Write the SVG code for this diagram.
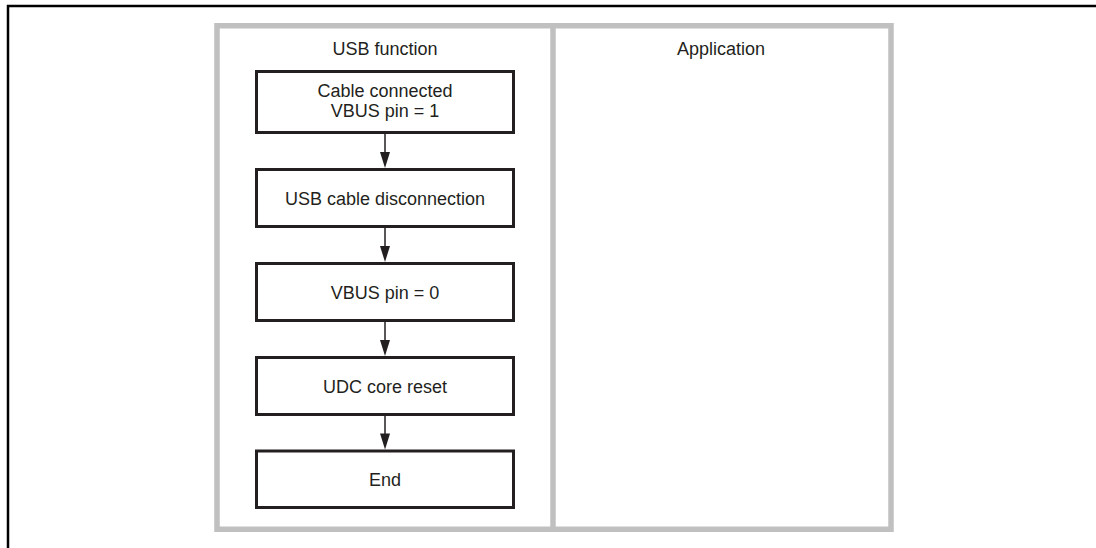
<svg xmlns="http://www.w3.org/2000/svg" width="1096" height="548" viewBox="0 0 1096 548">
<style>
.frame{fill:none;stroke:#000;stroke-width:2.5}
.lane{fill:none;stroke:#c0c0c0;stroke-width:5.5}
.box{fill:#fff;stroke:#231f20;stroke-width:3}
.txt{font-family:"Liberation Sans",Arial,sans-serif;font-size:18px;fill:#231f20;text-anchor:middle}
.conn{stroke:#231f20;stroke-width:1.5;fill:none}
.head{fill:#231f20}
</style>
<rect width="1096" height="548" fill="#fff"/>
<path class="frame" d="M8,548 V6 H1096"/>
<g id="lanes">
<rect class="lane" x="217" y="25.75" width="674" height="503.5"/>
<line class="lane" x1="553" y1="26" x2="553" y2="529"/>
<text class="txt" x="385" y="55">USB function</text>
<text class="txt" x="721" y="55">Application</text>
</g>
<g id="node1">
<rect class="box" x="256.5" y="71.5" width="257" height="61"/>
<text class="txt" x="385" y="96.5">Cable connected</text>
<text class="txt" x="385" y="117">VBUS pin = 1</text>
</g>
<g id="node2">
<rect class="box" x="256.5" y="169.5" width="257" height="57"/>
<text class="txt" x="385" y="204.5">USB cable disconnection</text>
</g>
<g id="node3">
<rect class="box" x="256.5" y="263.5" width="257" height="57"/>
<text class="txt" x="385" y="298.5">VBUS pin = 0</text>
</g>
<g id="node4">
<rect class="box" x="256.5" y="357.5" width="257" height="57"/>
<text class="txt" x="385" y="392.5">UDC core reset</text>
</g>
<g id="node5">
<rect class="box" x="256.5" y="451" width="257" height="56.5"/>
<text class="txt" x="385" y="485.5">End</text>
</g>
<g id="connectors">
<line class="conn" x1="385" y1="134" x2="385" y2="153"/>
<polygon class="head" points="380,152 390,152 385,168"/>
<line class="conn" x1="385" y1="228" x2="385" y2="247"/>
<polygon class="head" points="380,246 390,246 385,262"/>
<line class="conn" x1="385" y1="322" x2="385" y2="341"/>
<polygon class="head" points="380,340 390,340 385,356"/>
<line class="conn" x1="385" y1="416" x2="385" y2="434.5"/>
<polygon class="head" points="380,433.5 390,433.5 385,449.5"/>
</g>
</svg>
